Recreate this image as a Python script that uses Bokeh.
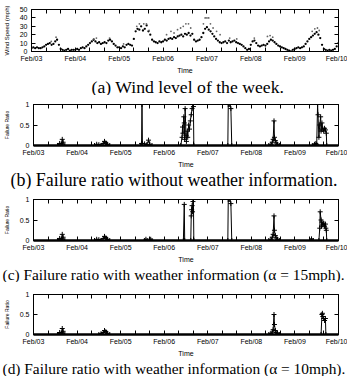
import numpy as np
from bokeh.plotting import figure
from bokeh.layouts import column
from bokeh.models import FixedTicker, LinearAxis, Range1d
from bokeh.core.properties import value
from bokeh.embed import file_html
from bokeh.resources import INLINE

# ---------------- data ----------------
day_labels = ["Feb/03", "Feb/04", "Feb/05", "Feb/06", "Feb/07", "Feb/08", "Feb/09", "Feb/10"]

# hourly wind speed (mph), Feb/03 00:00 .. Feb/10 00:00
wind_speed = [
    4, 5, 4, 5, 4, 4, 5, 6, 8, 9, 10, 8, 9, 12, 14, 8, 3, 2, 1, 2, 3, 1, 2, 2,
    2, 3, 2, 4, 5, 4, 6, 8, 10, 12, 14, 12, 10, 11, 9, 10, 11, 10, 13, 14, 12, 9, 7, 5,
    5, 4, 6, 5, 8, 9, 8, 7, 15, 24, 27, 26, 30, 25, 27, 31, 24, 20, 14, 12, 11, 10, 12, 11,
    12, 14, 13, 15, 16, 15, 17, 16, 18, 19, 20, 18, 21, 20, 22, 19, 21, 14, 12, 13, 14, 17, 22, 27,
    29, 26, 24, 21, 18, 15, 13, 11, 10, 11, 12, 10, 13, 11, 12, 13, 11, 10, 9, 8, 6, 4, 2, 3,
    8, 12, 13, 10, 7, 6, 7, 8, 7, 9, 12, 14, 13, 11, 9, 7, 6, 5, 4, 3, 2, 1, 0, 2,
    3, 4, 5, 4, 5, 6, 9, 12, 15, 17, 19, 21, 23, 20, 16, 8, 3, 2, 1, 2, 1, 2, 3, 6,
    10,
]
wind_hour = list(range(len(wind_speed)))

# scattered higher readings (gusts)
gust_day = [0.45, 0.56, 1.42, 1.48, 1.78, 2.10, 2.40, 2.46, 2.56, 2.62, 2.68, 3.08, 3.18, 3.25,
            3.33, 3.40, 3.46, 3.52, 3.58, 3.63, 3.92, 3.96, 4.00, 4.04, 4.08, 4.14, 4.22, 4.30,
            4.52, 4.68, 5.08, 5.38, 5.44, 5.50, 6.40, 6.46, 6.52, 6.56]
gust_speed = [12, 17, 15, 16, 16, 9, 30, 33, 33, 33, 25, 20, 24, 22,
              26, 28, 30, 33, 33, 28, 33, 40, 40, 40, 33, 28, 24, 20,
              16, 15, 16, 18, 19, 17, 24, 27, 28, 25]

# (b) failure ratio without weather information
fail_b_day = [0, 0.55, 0.60, 0.64, 0.66, 0.68, 0.72,
              1.40, 1.45, 1.50, 1.55, 1.60, 1.63, 1.66, 1.70, 1.75,
              2.45, 2.48, 2.49, 2.50, 2.55, 2.60, 2.64, 2.67, 2.72,
              3.38, 3.41, 3.42, 3.43, 3.45, 3.46, 3.47, 3.48, 3.50, 3.51, 3.53, 3.54, 3.56, 3.58,
              3.60, 3.62, 3.64, 3.66, 3.67, 3.68,
              4.46, 4.47, 4.49, 4.51, 4.53, 4.55,
              5.40, 5.45, 5.48, 5.50, 5.52, 5.53, 5.55, 5.57, 5.60, 5.65,
              6.40, 6.45, 6.48, 6.50, 6.52, 6.53, 6.55, 6.57, 6.59, 6.60, 6.62, 6.64, 6.66, 6.68,
              6.70, 6.72, 6.73, 7.0]
fail_b_ratio = [0, 0, 0.05, 0.03, 0.15, 0.08, 0,
                0, 0.03, 0.02, 0, 0.05, 0.10, 0.06, 0.03, 0,
                0, 0.05, 1.0, 0.05, 0.04, 0.02, 0.13, 0.03, 0,
                0, 0.2, 0.45, 0.3, 0.7, 0.55, 0.15, 0.9, 0.25, 0.1, 0.35, 0.2, 0.5, 0.4,
                0.6, 0.75, 0.9, 1.0, 0.95, 0,
                0, 1.0, 1.0, 1.0, 0.9, 0,
                0, 0.03, 0.08, 0.15, 0.6, 0.2, 0.12, 0.06, 0.03, 0,
                0, 0.03, 0.05, 0.02, 1.0, 0.75, 0.2, 0.5, 0.7, 0.35, 0.55, 0.4, 0.35, 0.42,
                0.38, 0.3, 0, 0]

# (c) failure ratio with weather information (alpha = 15 mph)
fail_c_day = [0, 0.55, 0.60, 0.64, 0.66, 0.68, 0.72,
              1.40, 1.45, 1.50, 1.55, 1.60, 1.63, 1.66, 1.70, 1.75,
              2.55, 2.58, 2.61, 2.66, 2.69, 2.72,
              3.44, 3.46, 3.47,
              3.61, 3.62, 3.63, 3.64, 3.65, 3.66, 3.67, 3.68,
              4.46, 4.47, 4.49, 4.51, 4.53, 4.55,
              5.40, 5.45, 5.48, 5.50, 5.52, 5.53, 5.55, 5.57, 5.60, 5.65,
              6.34, 6.38, 6.42,
              6.55, 6.57, 6.58, 6.60, 6.61, 6.62, 6.64, 6.66, 6.68, 6.70, 6.71, 6.72, 6.73, 7.0]
fail_c_ratio = [0, 0, 0.05, 0.03, 0.15, 0.08, 0,
                0, 0.03, 0.02, 0, 0.05, 0.10, 0.06, 0.03, 0,
                0, 0.03, 0, 0, 0.03, 0,
                0, 0.88, 0,
                0, 0.6, 0.75, 0.85, 0.7, 0.95, 1.0, 0,
                0, 1.0, 1.0, 1.0, 0.9, 0,
                0, 0.03, 0.08, 0.15, 0.6, 0.25, 0.12, 0.06, 0.03, 0,
                0, 0.04, 0,
                0, 0.3, 0.7, 0.5, 0.35, 0.45, 0.38, 0.42, 0.35, 0.4, 0.3, 0.25, 0, 0]

# (d) failure ratio with weather information (alpha = 10 mph)
fail_d_day = [0, 0.55, 0.60, 0.64, 0.66, 0.68, 0.72,
              1.50, 1.55, 1.60, 1.63, 1.66, 1.70, 1.75,
              5.40, 5.45, 5.48, 5.50, 5.52, 5.53, 5.55, 5.57, 5.60, 5.65,
              6.60, 6.62, 6.63, 6.64, 6.66, 6.68, 6.70, 6.71, 7.0]
fail_d_ratio = [0, 0, 0.05, 0.03, 0.15, 0.08, 0,
                0, 0.02, 0.05, 0.10, 0.07, 0.03, 0,
                0, 0.03, 0.06, 0.12, 0.5, 0.25, 0.1, 0.05, 0.03, 0,
                0, 0.5, 0.53, 0.45, 0.4, 0.35, 0.4, 0, 0]

captions = [
    "(a) Wind level of the week.",
    "(b) Failure ratio without weather information.",
    "(c) Failure ratio with weather information (α = 15mph).",
    "(d) Failure ratio with weather information (α = 10mph).",
]

# ---------------- styling helpers ----------------
SANS = "Liberation Sans"
SERIF = "Liberation Serif"
W = 347
FRAME_L, FRAME_R = 29, 338
day_ticks = list(range(len(day_labels)))
minor_x = [d + k / 3 for d in range(len(day_labels) - 1) for k in (1, 2)]


def unalign(fig):
    try:
        fig.frame_align = False
        return True
    except Exception:
        return False


def style_axis(ax, labels=True):
    ax.major_tick_in = 4
    ax.major_tick_out = 0
    ax.minor_tick_in = 4
    ax.minor_tick_out = 0
    ax.axis_line_color = "black"
    ax.major_tick_line_color = "black"
    ax.minor_tick_line_color = "black"
    ax.major_label_text_font = SANS
    ax.major_label_text_color = "black"
    ax.axis_label_text_font = SANS
    ax.axis_label_text_font_style = "normal"
    ax.axis_label_text_color = "black"
    if not labels:
        ax.major_label_text_color = None
        ax.major_label_text_font_size = "1px"
        ax.major_label_standoff = 0
        ax.axis_label = None


def make_panel(height, top, bottom, left, ymax, yticks, ylabel, ylabel_size):
    p = figure(width=W, height=height, x_range=Range1d(0, 7), y_range=Range1d(0, ymax),
               output_backend="svg", toolbar_location=None,
               min_border_left=left, min_border_right=W - FRAME_R, min_border_top=top,
               min_border_bottom=bottom)
    p.grid.visible = False
    p.outline_line_color = "black"
    p.outline_line_width = 1
    p.background_fill_color = "white"
    p.border_fill_color = "white"

    xa = p.xaxis[0]
    xa.ticker = FixedTicker(ticks=day_ticks, minor_ticks=minor_x)
    xa.major_label_overrides = {i: lab for i, lab in enumerate(day_labels)}
    style_axis(xa)
    xa.major_label_text_font_size = "7px"
    xa.major_label_standoff = 3
    xa.axis_label = "Time"
    xa.axis_label_text_font_size = "7px"
    xa.axis_label_standoff = 2

    ya = p.yaxis[0]
    ya.ticker = FixedTicker(ticks=yticks)
    style_axis(ya)
    ya.major_label_text_font_size = "7px"
    ya.major_label_standoff = 4
    ya.axis_label = ylabel
    ya.axis_label_text_font_size = ylabel_size
    ya.axis_label_standoff = 7

    top_ax = LinearAxis(ticker=FixedTicker(ticks=day_ticks, minor_ticks=minor_x))
    style_axis(top_ax, labels=False)
    p.add_layout(top_ax, "above")
    right_ax = LinearAxis(ticker=FixedTicker(ticks=yticks))
    style_axis(right_ax, labels=False)
    p.add_layout(right_ax, "right")
    return p, xa


def caption_fig(height, caption, size, left_px, center_from_top):
    c = figure(width=W, height=height, x_range=Range1d(0, W), y_range=Range1d(0, height),
               output_backend="svg", toolbar_location=None,
               x_axis_type=None, y_axis_type=None,
               min_border=0, min_border_left=0, min_border_right=0,
               min_border_top=0, min_border_bottom=0)
    if not unalign(c):
        # frames get aligned with the panels: map data units to page pixels
        c.x_range = Range1d(FRAME_L, FRAME_R)
    c.grid.visible = False
    c.outline_line_color = None
    c.background_fill_color = "white"
    c.border_fill_color = "white"
    c.text(x=[left_px], y=[height - center_from_top], text=[caption],
           text_font=value(SERIF), text_font_size=value(size),
           text_color="black", text_baseline="middle", text_align="left")
    return c


pa, _ = make_panel(76, 9, 21, 27, 50, [0, 10, 20, 30, 40, 50], "Wind Speed (mph)", "6px")
unalign(pa)
pa.scatter([h / 24 for h in wind_hour], wind_speed, marker="circle", size=2.3,
           color="black", line_width=0)
pa.scatter(gust_day, gust_speed, marker="circle", size=1.8, color="#666666", line_width=0)
ca = caption_fig(19, captions[0], "17.7px", 91, 10)


def failure_panel(height, top, bottom, days, ratio):
    p, xa = make_panel(height, top, bottom, FRAME_L, 1, [0, 0.5, 1], "Failure Ratio", "5px")
    p.yaxis[0].major_label_overrides = {0: "0", 0.5: "0.5", 1: "1"}
    xa.axis_line_width = 2.5
    p.line(days, ratio, line_color="black", line_width=1)
    p.scatter(days, ratio, marker="cross", size=5, line_color="black", line_width=1)
    return p


pb = failure_panel(75, 9, 20, fail_b_day, fail_b_ratio)
cb = caption_fig(19, captions[1], "17.9px", 10, 9)
pc = failure_panel(76, 10, 21, fail_c_day, fail_c_ratio)
cc = caption_fig(17, captions[2], "15.4px", 2, 9)
pd = failure_panel(77, 12, 20, fail_d_day, fail_d_ratio)
cd = caption_fig(17, captions[3], "15.4px", 2, 8.5)

layout = column(pa, ca, pb, cb, pc, cc, pd, cd, spacing=0)

open("out.html", "w").write(file_html(layout, INLINE))
